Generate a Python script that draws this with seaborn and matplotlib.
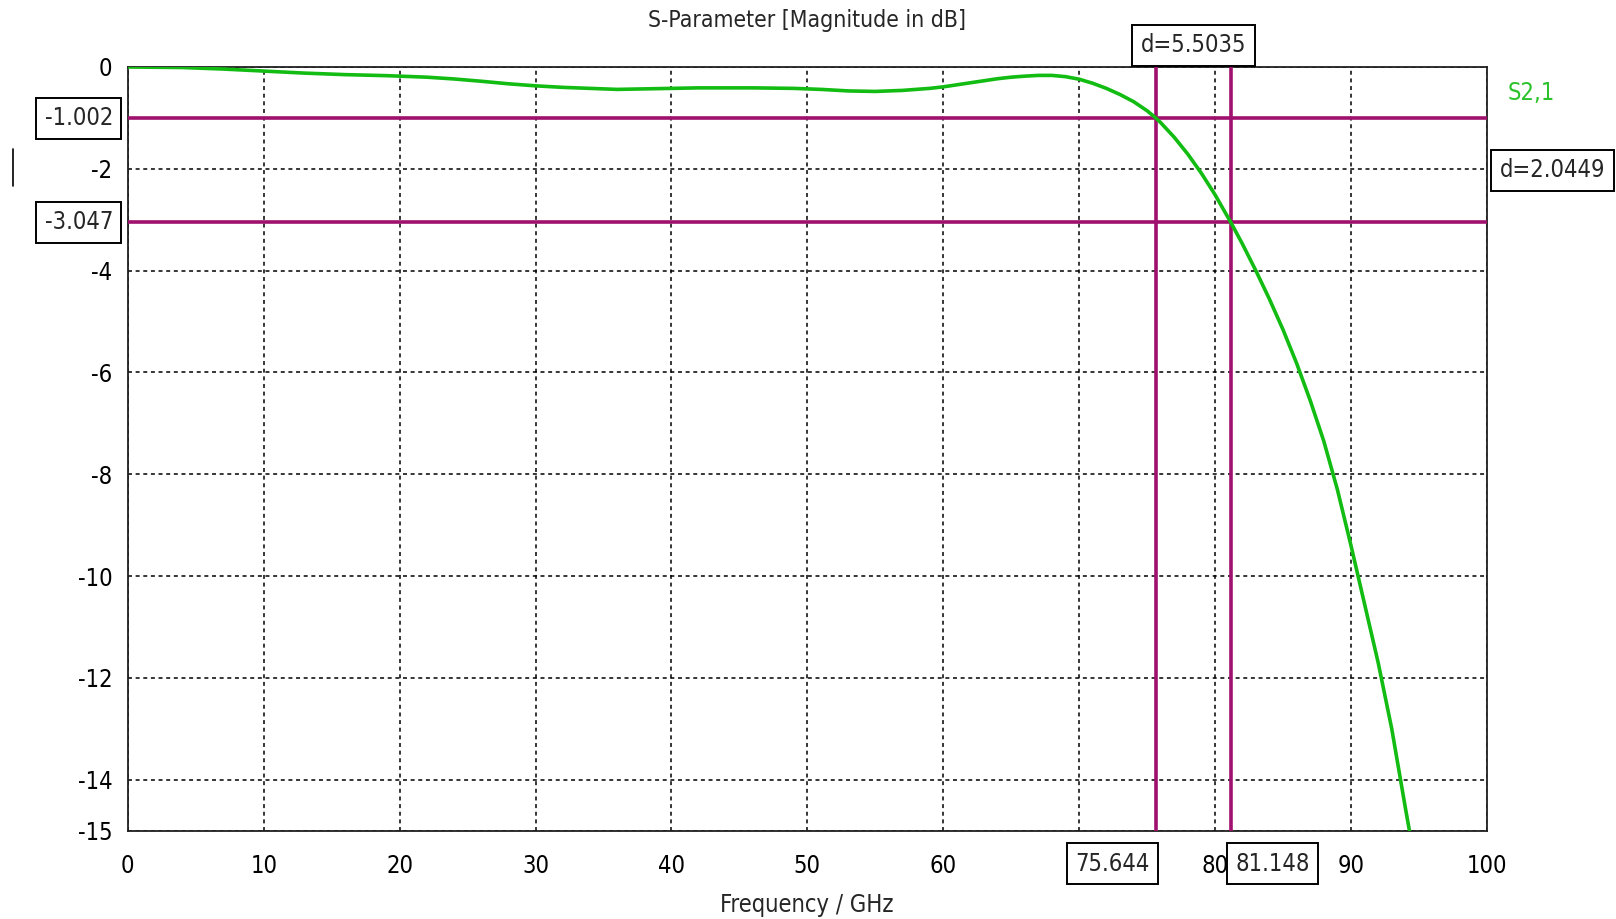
import numpy as np
import pandas as pd
import matplotlib
matplotlib.use("Agg")
import matplotlib.pyplot as plt
import matplotlib.transforms as mtransforms
from matplotlib.lines import Line2D
import seaborn as sns

# ---------------- data ----------------
freq_ghz = [0, 4, 7, 10, 13, 16, 19, 22, 24, 26, 28, 30, 32, 34, 36, 38, 42, 46,
            49, 51, 53, 55, 57, 59, 60, 61, 62, 63, 64, 65, 66, 67, 68, 69, 70,
            71, 72, 73, 74, 75, 75.644, 76, 77, 78, 79, 80, 81.148, 82, 83, 84,
            85, 86, 87, 88, 89, 90, 91, 92, 93, 94, 94.3]
s21_db = [0.0, -0.01, -0.04, -0.08, -0.12, -0.15, -0.17, -0.20, -0.235, -0.28,
          -0.33, -0.37, -0.40, -0.42, -0.44, -0.43, -0.41, -0.41, -0.42, -0.44,
          -0.47, -0.48, -0.46, -0.42, -0.39, -0.35, -0.31, -0.27, -0.23, -0.20,
          -0.18, -0.165, -0.165, -0.19, -0.24, -0.32, -0.42, -0.54, -0.68, -0.86,
          -1.002, -1.094, -1.382, -1.714, -2.09, -2.51, -3.047, -3.47, -4.00, -4.56,
          -5.16, -5.82, -6.55, -7.35, -8.30, -9.40, -10.55, -11.70, -13.00, -14.55,
          -15.0]

marker_freqs = [75.644, 81.148]
marker_freq_labels = ["75.644", "81.148"]
marker_levels = [-1.002, -3.047]
marker_level_labels = ["-1.002", "-3.047"]
delta_freq_label = "d=5.5035"
delta_level_label = "d=2.0449"

x_ticks = [0, 10, 20, 30, 40, 50, 60, 70, 80, 90, 100]
y_ticks = [0, -2, -4, -6, -8, -10, -12, -14, -15]

series_name = "S2,1"
title = "S-Parameter [Magnitude in dB]"
xlabel = "Frequency / GHz"

# ---------------- style ----------------
sns.set_style("white")
plt.rcParams["font.family"] = ["DejaVu Sans"]
plt.rcParams["font.stretch"] = "condensed"
FS = 17
GREEN = "#12BC12"
LEGEND_GREEN = "#2CC22C"
PURPLE = "#A0106E"

fig = plt.figure(figsize=(16.16, 9.19), dpi=100)
ax = fig.add_axes([0.0791, 0.0962, 0.9201 - 0.0791, 0.9271 - 0.0962])

df = pd.DataFrame({"freq": freq_ghz, "s21": s21_db})
sns.lineplot(data=df, x="freq", y="s21", ax=ax, color=GREEN, linewidth=2.6,
             zorder=4, legend=False)

ax.set_xlim(0, 100)
ax.set_ylim(-15, 0)
ax.set_xticks(x_ticks)
ax.set_yticks(y_ticks)
# the "70" label is hidden behind the 75.644 marker box in the reference
ax.set_xticklabels(["" if t == 70 else str(t) for t in x_ticks], fontsize=FS)
ax.set_yticklabels([str(t) for t in y_ticks], fontsize=FS)
ax.set_xlabel("")
ax.set_ylabel("")
ax.tick_params(axis="x", direction="inout", length=9, width=1.2, pad=12, colors="black")
ax.tick_params(axis="y", direction="out", length=5, width=1.2, pad=6, colors="black")

ax.grid(True, color="black", linestyle=(0, (2.6, 2.4)), linewidth=1.1)
for sp in ax.spines.values():
    sp.set_color("#202020")
    sp.set_linewidth(1.3)
    sp.set_visible(True)

# marker lines
for f in marker_freqs:
    ax.axvline(f, color=PURPLE, linewidth=2.6, zorder=3)
for lv in marker_levels:
    ax.axhline(lv, color=PURPLE, linewidth=2.6, zorder=3)

box = dict(boxstyle="square,pad=0.36", fc="white", ec="black", lw=1.4)
ytrans = mtransforms.blended_transform_factory(ax.transAxes, ax.transData)
xtrans = mtransforms.blended_transform_factory(ax.transData, ax.transAxes)

for lv, lab in zip(marker_levels, marker_level_labels):
    ax.text(-0.011, lv, lab, transform=ytrans, ha="right", va="center",
            fontsize=FS, bbox=box, zorder=6, clip_on=False)

ax.text(marker_freqs[0] - 0.45, -0.0435, marker_freq_labels[0], transform=xtrans,
        ha="right", va="center", fontsize=FS, bbox=box, zorder=6, clip_on=False)
ax.text(marker_freqs[1] + 0.35, -0.0435, marker_freq_labels[1], transform=xtrans,
        ha="left", va="center", fontsize=FS, bbox=box, zorder=6, clip_on=False)

ax.text(np.mean(marker_freqs), 1.0285, delta_freq_label, transform=xtrans,
        ha="center", va="center", fontsize=FS, bbox=box, zorder=6, clip_on=False)
ax.text(1.0095, np.mean(marker_levels), delta_level_label, transform=ytrans,
        ha="left", va="center", fontsize=FS, bbox=box, zorder=6, clip_on=False)

ax.text(1.0155, 0.966, series_name, transform=ax.transAxes, ha="left",
        va="center", fontsize=FS, color=LEGEND_GREEN, clip_on=False)

fig.text(0.4995, 0.978, title, ha="center", va="center", fontsize=16.5)
fig.text(0.4995, 0.0155, xlabel, ha="center", va="center", fontsize=17)

# small stray cursor mark at the far left
fig.add_artist(Line2D([12.5 / 1616, 12.5 / 1616], [1 - 149 / 919, 1 - 186 / 919],
                      color="black", linewidth=1.2))

fig.savefig("out.png", dpi=100)
